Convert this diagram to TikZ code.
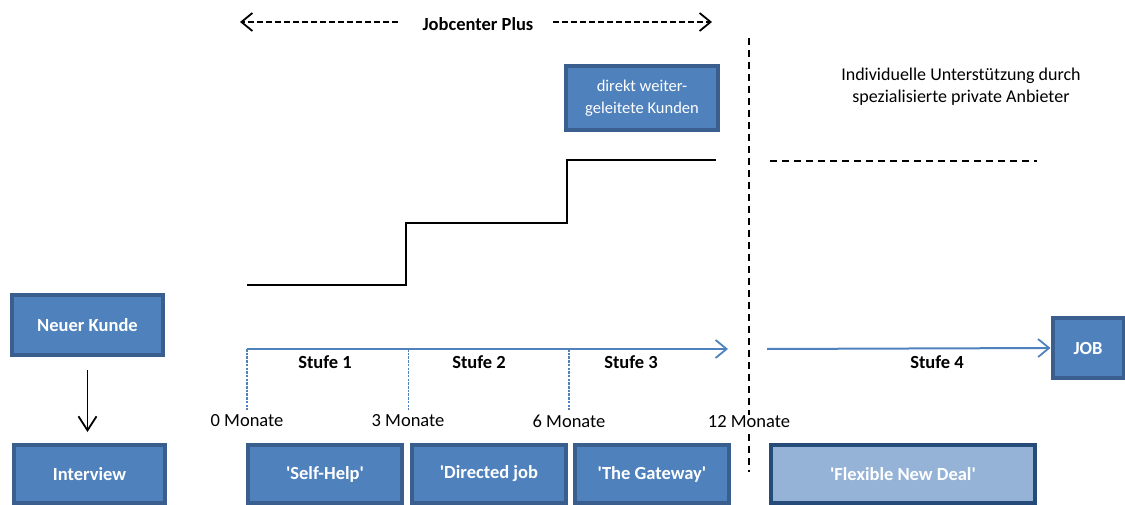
\documentclass[tikz,border=0pt]{standalone}
\usepackage{fontspec}
\setmainfont{Carlito}
\usetikzlibrary{arrows.meta}
\definecolor{boxfill}{HTML}{4F81BD}
\definecolor{boxline}{HTML}{3A5F8E}
\definecolor{lightfill}{HTML}{95B3D7}
\definecolor{darkline}{HTML}{264B79}
\definecolor{axisblue}{HTML}{4F81BD}
\newcommand{\q}{\textquotesingle}

\begin{document}
\begin{tikzpicture}[x=1pt, y=-1pt, font=\fontsize{18.5}{22}\selectfont,
  >={Straight Barb[length=11pt, width=18pt, line width=1.8pt]},
  box/.style={draw=boxline, fill=boxfill, line width=4pt, text=white, font=\fontsize{18.5}{22}\selectfont\bfseries, inner sep=0pt},
  lightbox/.style={box, draw=darkline, fill=lightfill},
  stufe/.style={font=\fontsize{18.5}{22}\selectfont\bfseries},
  monat/.style={fill=white, inner sep=1pt},
  zeit/.style={draw=axisblue, line width=2pt},
  tick/.style={draw=axisblue, dash pattern=on 2.5pt off 1.2pt},
  gestrichelt/.style={line width=1.3pt, dash pattern=on 6pt off 3pt},
]
\useasboundingbox (0,0) rectangle (1125,505);

\node[box, minimum width=151pt, minimum height=60pt] (neu) at (87.5,325) {Neuer Kunde};
\node[box, minimum width=151pt, minimum height=58pt] (iv) at (89.5,474) {Interview};
\node[box, minimum width=154pt, minimum height=58pt] (s1) at (325,474) {\q Self-Help\q};
\node[box, minimum width=154pt, minimum height=58pt] (s2) at (489,474) {\q Directed job};
\node[box, minimum width=154pt, minimum height=58pt] (s3) at (652,474) {\q The Gateway\q};
\node[lightbox, minimum width=264pt, minimum height=58pt] (s4) at (903,474) {\q Flexible New Deal\q};
\node[box, minimum width=71pt, minimum height=60pt] (job) at (1088,348) {JOB};
\node[box, font=\fontsize{16.5}{22}\selectfont, align=center, minimum width=152pt, minimum height=64pt] (direkt) at (642,98) {direkt weiter-\\geleitete Kunden};

\node (jc) at (478,24) {\bfseries Jobcenter Plus};
\node[align=center, font=\fontsize{18}{22}\selectfont] (priv) at (961,87) {Individuelle Unterstützung durch\\spezialisierte private Anbieter};

\draw[->, line width=1.4pt, >={Straight Barb[length=14pt, width=18pt, line width=1.8pt]}] (neu.south |- 0,370) -- (neu.south |- 0,432);

\coordinate (jcL) at (240,22);
\coordinate (jcR) at (712,22);
\draw[->, gestrichelt] (398,22) -- (jcL);
\draw[->, gestrichelt] (553,22) -- (jcR);

% Zeitachse
\coordinate (t0) at (247,349);
\coordinate (t3) at (408,349);
\coordinate (t6) at (569,349);
\coordinate (t12) at (728,349);
\coordinate (u0) at (767,349);
\draw[zeit, ->] (t0) -- (t12);
\draw[zeit, ->] (u0) -- (job.west);
\draw[tick, line width=2.2pt] (t0) -- ++(0,61);
\draw[tick, line width=1pt] (t3) -- ++(0,61);
\draw[tick, line width=1.5pt] (t6) -- ++(0,61);
\node[monat] (m0) at (247,421) {0 Monate};
\node[monat] (m3) at (408,421) {3 Monate};
\node[monat] (m6) at (569,421) {6 Monate};

\node[stufe] (st1) at (325,362) {Stufe 1};
\node[stufe] (st2) at (479,362) {Stufe 2};
\node[stufe] (st3) at (631,362) {Stufe 3};
\node[stufe] (st4) at (937,362) {Stufe 4};

% Trennlinie
\draw[line width=2pt, dash pattern=on 7pt off 5pt] (749,38) -- (749,472);
\node[monat] (m12) at (749,422) {12 Monate};

% Stufen
\draw[line width=2.2pt] (247,285) -- (406,285) -- (406,223) -- (567,223) -- (567,160) -- (716,160);
\draw[line width=1.3pt, dash pattern=on 7pt off 5pt] (770,161) -- (1037,161);
\end{tikzpicture}
\end{document}
